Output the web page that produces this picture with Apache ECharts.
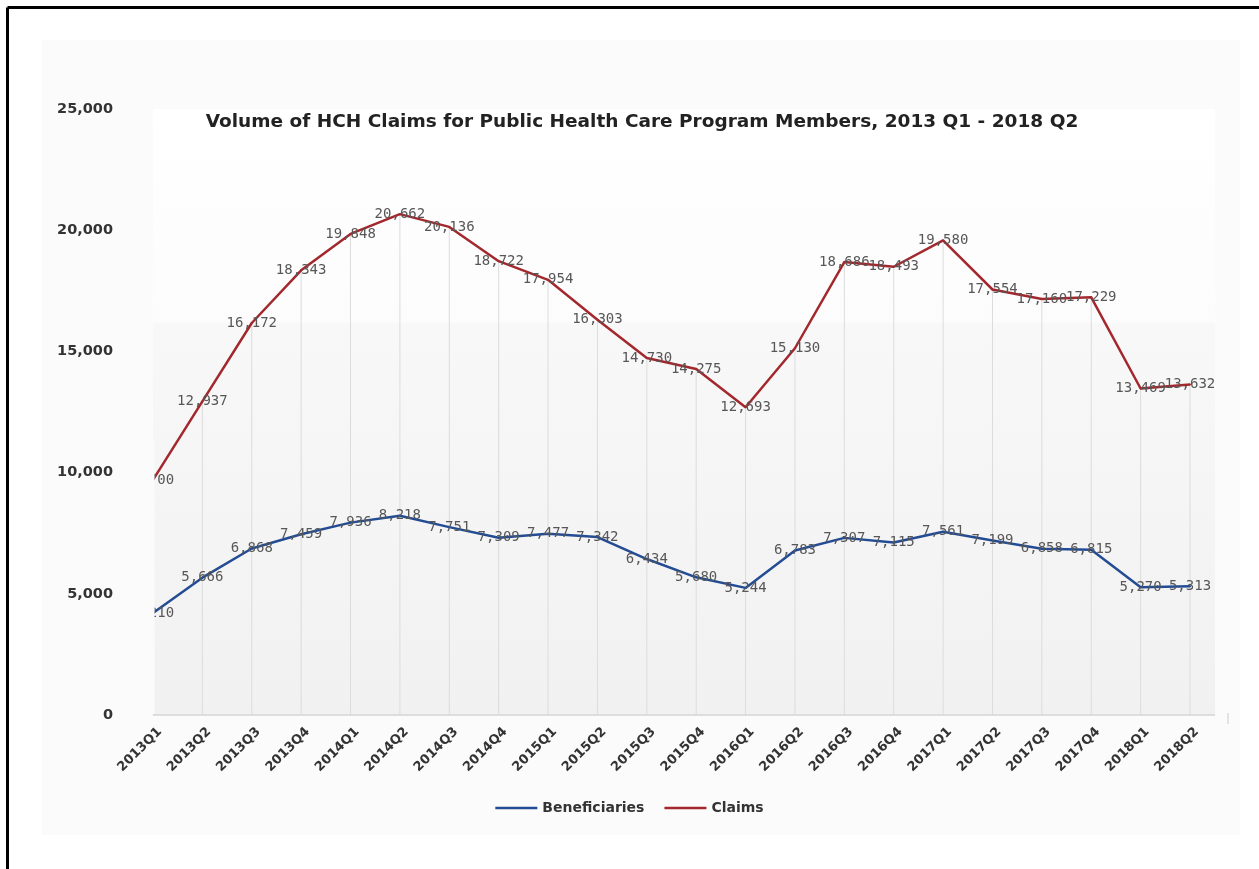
<!DOCTYPE html>
<html>
<head>
<meta charset="utf-8">
<script src="https://cdn.jsdelivr.net/npm/echarts@6/dist/echarts.min.js"></script>
<style>
html,body{margin:0;padding:0;background:#fff;}
#chart{width:1259px;height:869px;}
</style>
</head>
<body>
<div id="chart"></div>
<script>
const categories = ['2013Q1','2013Q2','2013Q3','2013Q4','2014Q1','2014Q2','2014Q3','2014Q4','2015Q1','2015Q2','2015Q3','2015Q4','2016Q1','2016Q2','2016Q3','2016Q4','2017Q1','2017Q2','2017Q3','2017Q4','2018Q1','2018Q2'];
const beneficiaries = [4210,5666,6868,7459,7936,8218,7751,7309,7477,7342,6434,5680,5244,6783,7307,7115,7561,7199,6858,6815,5270,5313];
const claims = [9700,12937,16172,18343,19848,20662,20136,18722,17954,16303,14730,14275,12693,15130,18686,18493,19580,17554,17160,17229,13469,13632];
const yTicks = [0,5000,10000,15000,20000,25000];
const titleText = 'Volume of HCH Claims for Public Health Care Program Members, 2013 Q1 - 2018 Q2';

const chart = echarts.init(document.getElementById('chart'));
const fmt = v => v.toLocaleString('en-US');
const labelStyle = {
  show: true,
  position: 'inside',
  fontFamily: 'DejaVu Sans Mono',
  fontSize: 14,
  color: '#575757',
  formatter: p => fmt(p.value)
};
const option = {
  backgroundColor: '#ffffff',
  animation: false,
  title: {
    text: titleText,
    left: 637, top: 108, textAlign: 'center',
    textStyle: {fontFamily: 'DejaVu Sans', fontWeight: 'bold', fontSize: 18.5, color: '#222'}
  },
  legend: {
    data: ['Beneficiaries','Claims'],
    bottom: 49, left: 'center',
    icon: 'path://M0,0L40,0L40,2.5L0,2.5Z',
    itemWidth: 42, itemHeight: 3, itemGap: 20,
    textStyle: {fontFamily: 'DejaVu Sans', fontWeight: 'bold', fontSize: 14, color: '#333'}
  },
  grid: {left: 153, right: 69, top: 109, bottom: 154, containLabel: false},
  xAxis: {
    type: 'category', data: categories, boundaryGap: false,
    axisLine: {show: false}, axisTick: {show: false},
    splitLine: {show: false},
    axisLabel: {rotate: 45, margin: 8, interval: 0, verticalAlign: 'top', padding: [3,0,0,0],
      fontFamily: 'DejaVu Sans', fontWeight: 'bold', fontSize: 13, color: '#333'}
  },
  yAxis: {
    type: 'value', min: 0, max: 25000, interval: 5000,
    axisLine: {show: false}, axisTick: {show: false}, splitLine: {show: false},
    axisLabel: {margin: 40, fontFamily: 'DejaVu Sans', fontWeight: 'bold', fontSize: 14.5, color: '#333',
      formatter: v => fmt(v)}
  },
  graphic: [
    {type: 'rect', z: -10, shape: {x: 42, y: 40, width: 1198, height: 795}, style: {fill: '#fbfbfb'}},
    {type: 'rect', z: -9, shape: {x: 153, y: 109, width: 1062, height: 606},
      style: {fill: new echarts.graphic.LinearGradient(0,0,0,1,[
        {offset: 0, color: '#ffffff'}, {offset: 0.35, color: '#fcfcfc'},
        {offset: 0.355, color: '#f8f8f8'}, {offset: 1, color: '#f1f1f1'}])}},
    {type: 'line', z: 5, shape: {x1: 153, y1: 715, x2: 1215, y2: 715}, style: {stroke: '#d4d4d4', lineWidth: 1.5}},
    {type: 'line', z: 5, shape: {x1: 1228, y1: 713, x2: 1228, y2: 724}, style: {stroke: '#ccc', lineWidth: 1}},
    {type: 'rect', z: 100, shape: {x: 122, y: 440, width: 32.5, height: 274}, style: {fill: '#fbfbfb'}},
    {type: 'line', z: 100, shape: {x1: 7.5, y1: 7.5, x2: 1259, y2: 7.5}, style: {stroke: '#000', lineWidth: 3}},
    {type: 'line', z: 100, shape: {x1: 7.5, y1: 7.5, x2: 7.5, y2: 869}, style: {stroke: '#000', lineWidth: 3}}
  ],
  series: [
    {
      name: 'drop', type: 'bar', data: claims, barWidth: 1, silent: true, z: 1,
      itemStyle: {color: '#dcdcdc'}, label: {show: false}
    },
    {
      name: 'Beneficiaries', type: 'line', data: beneficiaries, z: 3,
      symbol: 'circle', symbolSize: 2, showSymbol: true,
      lineStyle: {color: '#234c94', width: 2.5}, itemStyle: {color: '#234c94'},
      label: labelStyle
    },
    {
      name: 'Claims', type: 'line', data: claims, z: 3,
      symbol: 'circle', symbolSize: 2, showSymbol: true,
      lineStyle: {color: '#a3282d', width: 2.5}, itemStyle: {color: '#a3282d'},
      label: labelStyle
    }
  ]
};
chart.setOption(option);
</script>
</body>
</html>
